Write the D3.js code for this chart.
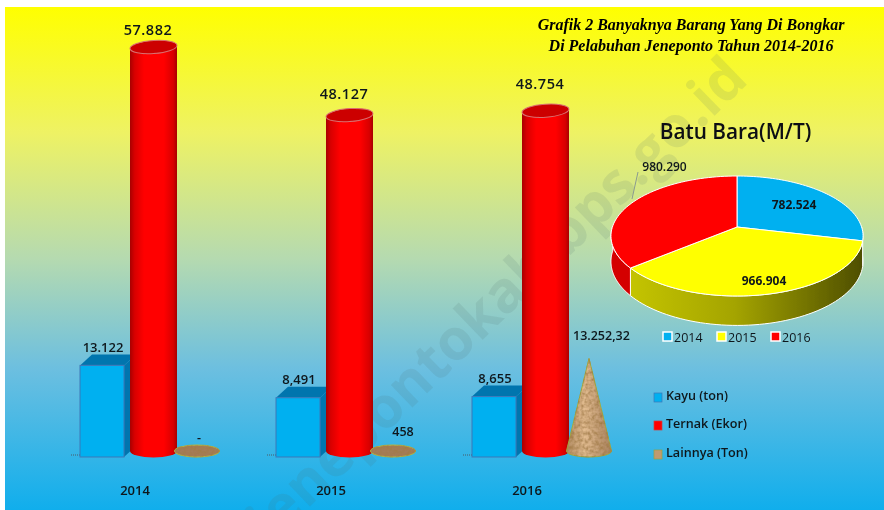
<!DOCTYPE html>
<html>
<head>
<meta charset="utf-8">
<script src="https://cdn.jsdelivr.net/npm/d3@7"></script>
<style>
  html, body { margin: 0; padding: 0; background: #fff; }
  text { font-family: "Open Sans", sans-serif; fill: #10181c; }
</style>
</head>
<body>
<svg id="chart" width="884" height="510"></svg>
<script>
const years = ["2014", "2015", "2016"];
const kayu = [13122, 8491, 8655];
const ternak = [57882, 48127, 48754];
const lainnya = [0, 458, 13252.32];
const kayuLabels = ["13.122", "8,491", "8,655"];
const ternakLabels = ["57.882", "48.127", "48.754"];
const lainnyaLabels = ["-", "458", "13.252,32"];
const batuBara = [782524, 966904, 980290];
const batuBaraLabels = ["782.524", "966.904", "980.290"];
const pieColors = ["#00b0f0", "#ffff00", "#ff0000"];
const legendNames = ["Kayu (ton)", "Ternak (Ekor)", "Lainnya (Ton)"];
const titleLines = [
  "Grafik 2 Banyaknya Barang Yang Di Bongkar",
  "Di Pelabuhan Jeneponto Tahun 2014-2016",
];

const svg = d3.select("#chart");
const defs = svg.append("defs");

function linearGradient(id, stops, vertical) {
  const g = defs
    .append("linearGradient")
    .attr("id", id)
    .attr("x1", 0)
    .attr("y1", 0)
    .attr("x2", vertical ? 0 : 1)
    .attr("y2", vertical ? 1 : 0);
  stops.forEach(([o, c]) =>
    g.append("stop").attr("offset", o).attr("stop-color", c)
  );
}

linearGradient(
  "bg",
  [
    [0, "#ffff00"],
    [0.25, "#eef264"],
    [0.5, "#b5dab0"],
    [0.72, "#6cbfe0"],
    [1, "#10aeec"],
  ],
  true
);
linearGradient("cyl", [
  [0, "#a80000"],
  [0.1, "#d80000"],
  [0.3, "#ff0000"],
  [0.72, "#ff0000"],
  [0.92, "#d80000"],
  [1, "#a80000"],
]);
linearGradient("pieSide", [
  [0, "#c4c400"],
  [0.45, "#a4a400"],
  [1, "#4e4e00"],
]);
linearGradient("coneShade", [
  [0, "#b08a62"],
  [0.4, "#e2bc90"],
  [1, "#a88260"],
]);

// Mottled wood look of the Lainnya series
const wood = defs.append("filter").attr("id", "wood");
wood
  .append("feTurbulence")
  .attr("type", "fractalNoise")
  .attr("baseFrequency", 0.28)
  .attr("numOctaves", 2)
  .attr("seed", 4)
  .attr("result", "noise");
wood
  .append("feColorMatrix")
  .attr("in", "noise")
  .attr("type", "matrix")
  .attr("values", "0 0 0 0 0.36  0 0 0 0 0.2  0 0 0 0 0.06  1.8 0 0 0 -0.6")
  .attr("result", "spots");
wood
  .append("feComposite")
  .attr("in", "spots")
  .attr("in2", "SourceAlpha")
  .attr("operator", "in")
  .attr("result", "clipped");
const woodMerge = wood.append("feMerge");
woodMerge.append("feMergeNode").attr("in", "SourceGraphic");
woodMerge.append("feMergeNode").attr("in", "clipped");

defs
  .append("filter")
  .attr("id", "soft")
  .append("feGaussianBlur")
  .attr("stdDeviation", 0.45);

svg
  .append("rect")
  .attr("x", 5)
  .attr("y", 7)
  .attr("width", 879)
  .attr("height", 503)
  .attr("fill", "url(#bg)");

svg
  .append("text")
  .attr("transform", "translate(270,545) rotate(-44)")
  .attr("font-size", 57)
  .attr("font-weight", 700)
  .style("fill", "#507070")
  .style("fill-opacity", 0.13)
  .text("jenepontokab.bps.go.id");

const root = svg.append("g").attr("filter", "url(#soft)");

// Column chart
const x = d3.scaleBand().domain(years).range([36, 624]);
const h = d3.scaleLinear().domain([0, 57882]).range([0, 404]);
const floorY = 451;
const frontY = 457;
const barW = 44;
const cylRx = 23.5;
const cylRy = 6.5;
const depthX = 12;
const depthY = 11;

const group = root
  .selectAll("g.year")
  .data(years)
  .join("g")
  .attr("class", "year")
  .attr("transform", (d) => `translate(${x(d)},0)`);

group
  .append("path")
  .attr("d", `M${35},${frontY - 2}H44`)
  .attr("stroke", "#4a5a66")
  .attr("stroke-dasharray", "1 1");

// Kayu boxes
group
  .append("path")
  .attr("fill", "#0474ae")
  .attr("d", (d, i) => {
    const top = frontY - h(kayu[i]);
    return `M44,${top}l${depthX},${-depthY}h${barW}l${-depthX},${depthY}z`;
  });
group
  .append("path")
  .attr("fill", "#0474ae")
  .attr("d", (d, i) => {
    const top = frontY - h(kayu[i]);
    const r = 44 + barW;
    return `M${r},${top}l${depthX},${-depthY}V${frontY - depthY}L${r},${frontY}z`;
  });
group
  .append("rect")
  .attr("x", 44)
  .attr("y", (d, i) => frontY - h(kayu[i]))
  .attr("width", barW)
  .attr("height", (d, i) => h(kayu[i]))
  .attr("fill", "#00b0f0")
  .attr("stroke", "#3f78b8")
  .attr("stroke-width", 1);

// Ternak cylinders
const cylX = 117.5;
group
  .append("path")
  .attr("fill", "url(#cyl)")
  .attr("d", (d, i) => {
    const top = floorY - h(ternak[i]);
    return (
      `M${cylX - cylRx},${top + 1.5}V${floorY}` +
      `A${cylRx},${cylRy} 0 0 0 ${cylX + cylRx},${floorY}V${top - 1.5}z`
    );
  });
// Top of the cylinder leans a little in the original
group
  .append("ellipse")
  .attr("cx", cylX)
  .attr("cy", (d, i) => floorY - h(ternak[i]))
  .attr("rx", cylRx)
  .attr("ry", cylRy)
  .attr("transform", (d, i) => `rotate(-4 ${cylX} ${floorY - h(ternak[i])})`)
  .attr("fill", "#cc0000")
  .attr("stroke", "#d87070")
  .attr("stroke-width", 1);

// Lainnya cones, flat ones end up looking like a disc
const coneX = 161;
group
  .append("path")
  .attr("filter", "url(#wood)")
  .attr("fill", (d, i) => (h(lainnya[i]) > 10 ? "url(#coneShade)" : "#a57c58"))
  .attr("stroke", (d, i) => (h(lainnya[i]) > 10 ? "#a4ac3c" : "#b8b83c"))
  .attr("stroke-width", 1)
  .attr("d", (d, i) => {
    const top = floorY - h(lainnya[i]);
    return (
      `M${coneX - 22.5},${floorY}` +
      `A22.5,6 0 0 0 ${coneX + 22.5},${floorY}` +
      (h(lainnya[i]) > 10
        ? `L${coneX},${top}z`
        : `A22.5,6 0 0 0 ${coneX - 22.5},${floorY}z`)
    );
  });

// Value labels
group
  .append("text")
  .attr("x", 67)
  .attr("y", (d, i) => frontY - h(kayu[i]) - 13.5)
  .attr("text-anchor", "middle")
  .attr("font-size", 13)
  .attr("font-weight", 600)
  .text((d, i) => kayuLabels[i]);
group
  .append("text")
  .attr("x", cylX - 5.5)
  .attr("y", (d, i) => floorY - h(ternak[i]) - [12, 16, 22][i])
  .attr("text-anchor", "middle")
  .attr("font-size", 14.5)
  .attr("font-weight", 600)
  .attr("letter-spacing", 0.5)
  .text((d, i) => ternakLabels[i]);
group
  .append("text")
  .attr("x", (d, i) => [163, 171, 145][i])
  .attr("y", (d, i) => [442, 436, 340][i])
  .attr("text-anchor", (d, i) => (i === 2 ? "start" : "middle"))
  .attr("font-size", 12.5)
  .attr("font-weight", 600)
  .text((d, i) => lainnyaLabels[i]);

group
  .append("text")
  .attr("x", 99)
  .attr("y", 495)
  .attr("text-anchor", "middle")
  .attr("font-size", 13)
  .attr("font-weight", 600)
  .text((d) => d);

// Series legend
const legend = root
  .selectAll("g.legend")
  .data(legendNames)
  .join("g")
  .attr("class", "legend")
  .attr("transform", (d, i) => `translate(654,${[393, 421, 450][i]})`);
legend
  .append("rect")
  .attr("width", 8)
  .attr("height", 9)
  .attr("fill", (d, i) => ["#00b0f0", "#ff0000", "#c09a70"][i])
  .attr("stroke", (d, i) => ["#3f78b8", "#d04040", "#9aa040"][i])
  .attr("stroke-width", 0.7);
legend
  .append("text")
  .attr("x", 12)
  .attr("y", 7)
  .attr("font-size", 12.6)
  .attr("font-weight", 600)
  .text((d) => d);

// Title
root
  .selectAll("text.title")
  .data(titleLines)
  .join("text")
  .attr("class", "title")
  .attr("x", 691)
  .attr("y", (d, i) => [30, 51][i])
  .attr("text-anchor", "middle")
  .attr("font-size", 16)
  .attr("font-weight", 700)
  .attr("font-style", "italic")
  .style("font-family", '"Liberation Serif", serif')
  .style("fill", "#000")
  .text((d) => d);

// Pie, tilted with a small perspective so the centre sits behind the middle
const pieX = 737;
const pieY = 227;
const pieA = 58.65;
const pieB = 124.6;
const pieK = 0.15;
const pieDepth = 25;

function project(angle, radius, drop) {
  const px = radius * Math.sin(angle);
  const py = -radius * Math.cos(angle);
  const w = 1 - pieK * py;
  return [pieX + (pieB * px) / w, pieY + (pieA * py) / w + (drop ? pieDepth / w : 0)];
}

function arcPoints(a0, a1, drop) {
  return d3
    .range(0, 61)
    .map((k) => project(a0 + ((a1 - a0) * k) / 60, 1, drop));
}

const line = d3.line();
const slices = d3.pie().sort(null)(batuBara);
const pieG = root.append("g");

// Only the front half of the rim is seen, clamp the walls to it
const wallFrom = Math.PI / 2 - 0.02;
const wallTo = (3 * Math.PI) / 2 + 0.02;
pieG
  .selectAll("path.wall")
  .data(slices)
  .join("path")
  .attr("class", "wall")
  .attr("fill", (d, i) => (i === 1 ? "url(#pieSide)" : i === 2 ? "#d40000" : "#0474ae"))
  .attr("stroke", "#fff")
  .attr("stroke-width", 1)
  .attr("d", (d) => {
    const a0 = Math.max(d.startAngle, wallFrom);
    const a1 = Math.min(d.endAngle, wallTo);
    if (a1 <= a0) return null;
    return line(arcPoints(a0, a1, false).concat(arcPoints(a1, a0, true))) + "Z";
  });

pieG
  .selectAll("path.slice")
  .data(slices)
  .join("path")
  .attr("class", "slice")
  .attr("fill", (d, i) => pieColors[i])
  .attr("stroke", "#fff")
  .attr("stroke-width", 1)
  .attr("d", (d) => {
    return line([[pieX, pieY]].concat(arcPoints(d.startAngle, d.endAngle, false))) + "Z";
  });

root
  .append("path")
  .attr("d", "M638,172L632,199")
  .attr("stroke", "#8a9a90")
  .attr("fill", "none");

root
  .selectAll("text.pieLabel")
  .data(batuBaraLabels)
  .join("text")
  .attr("class", "pieLabel")
  .attr("x", (d, i) => [794, 764, 664.5][i])
  .attr("y", (d, i) => [209, 285, 171][i])
  .attr("text-anchor", "middle")
  .attr("font-size", 12)
  .attr("font-weight", (d, i) => (i === 2 ? 600 : 700))
  .text((d) => d);

root
  .append("text")
  .attr("x", 735.5)
  .attr("y", 139)
  .attr("text-anchor", "middle")
  .attr("font-size", 20.8)
  .attr("font-weight", 600)
  .style("fill", "#0a1012")
  .text("Batu Bara(M/T)");

const pieLegend = root
  .selectAll("g.pieLegend")
  .data(years)
  .join("g")
  .attr("class", "pieLegend")
  .attr("transform", (d, i) => `translate(${[663, 717, 771][i]},332)`);
pieLegend
  .append("rect")
  .attr("width", 9)
  .attr("height", 9)
  .attr("fill", (d, i) => pieColors[i])
  .attr("stroke", "#fff")
  .attr("stroke-width", 1.5);
pieLegend
  .append("text")
  .attr("x", 11)
  .attr("y", 9.5)
  .attr("font-size", 12.5)
  .attr("font-weight", 500)
  .text((d) => d);
</script>
</body>
</html>
